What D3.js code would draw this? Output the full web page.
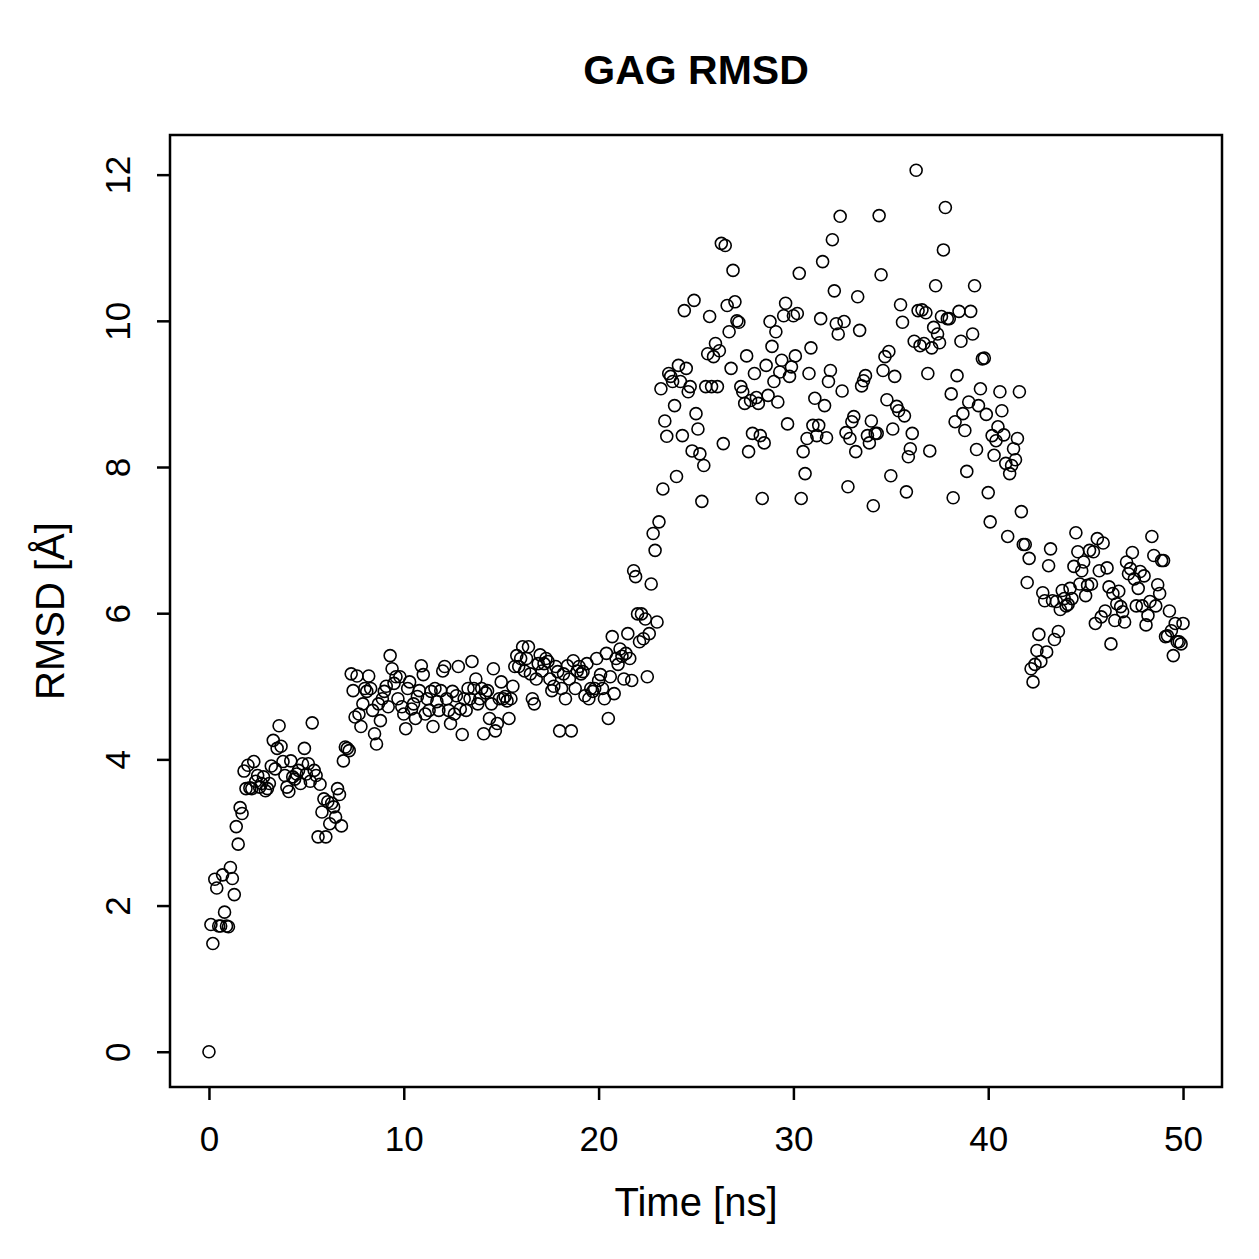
<!DOCTYPE html>
<html>
<head>
<meta charset="utf-8">
<script src="https://cdn.jsdelivr.net/npm/d3@7"></script>
<style>
  body { margin: 0; background: #fff; }
  text { font-family: "Liberation Sans", Arial, Helvetica, sans-serif; fill: #000; }
</style>
</head>
<body>
<div id="my_dataviz"></div>
<script>
// sampling step of the trajectory (ns)
var stepNs = 0.1;

// RMSD values (A), one per frame
var rmsd = [
  0, 1.74, 1.48, 2.36, 2.24, 1.72, 1.72, 2.42, 1.91, 1.72,
  1.71, 2.52, 2.37, 2.15, 3.08, 2.84, 3.34, 3.26, 3.84, 3.60,
  3.92, 3.61, 3.60, 3.97, 3.70, 3.78, 3.62, 3.67, 3.76, 3.57,
  3.60, 3.67, 3.91, 4.26, 3.87, 4.15, 4.46, 4.18, 3.97, 3.78,
  3.62, 3.56, 3.98, 3.76, 3.73, 3.80, 3.85, 3.67, 3.94, 4.15,
  3.80, 3.94, 3.70, 4.50, 3.85, 3.78, 2.94, 3.66, 3.28, 3.46,
  2.94, 3.42, 3.12, 3.40, 3.35, 3.21, 3.60, 3.52, 3.09, 3.98,
  4.17, 4.15, 4.12, 5.17, 4.94, 4.58, 5.14, 4.62, 4.45, 4.76,
  4.97, 4.93, 5.14, 4.97, 4.67, 4.35, 4.21, 4.76, 4.53, 4.83,
  4.93, 5.00, 4.72, 5.42, 5.24, 5.04, 5.13, 4.83, 5.13, 4.72,
  4.62, 4.42, 4.97, 5.06, 4.69, 4.76, 4.56, 4.86, 4.94, 5.28,
  5.16, 4.62, 4.83, 4.67, 4.93, 4.45, 4.97, 4.79, 4.67, 4.94,
  5.21, 5.27, 4.83, 4.67, 4.49, 4.93, 4.62, 4.87, 5.27, 4.69,
  4.34, 4.83, 4.67, 4.97, 4.83, 5.34, 4.97, 5.10, 4.76, 4.83,
  4.97, 4.35, 4.91, 4.94, 4.56, 4.76, 5.24, 4.39, 4.49, 4.83,
  5.06, 4.83, 4.86, 4.80, 4.56, 4.83, 5.00, 5.27, 5.42, 5.27,
  5.38, 5.54, 5.21, 5.38, 5.54, 5.17, 4.83, 4.76, 5.10, 5.31,
  5.43, 5.21, 5.31, 5.38, 5.34, 5.10, 4.94, 5.00, 5.27, 5.20,
  4.39, 4.97, 5.17, 4.83, 5.28, 5.10, 4.39, 5.35, 4.97, 5.21,
  5.27, 5.17, 5.20, 4.87, 5.31, 4.83, 4.97, 4.93, 4.97, 5.38,
  5.08, 5.16, 4.97, 4.83, 5.45, 4.56, 5.13, 5.68, 4.90, 5.38,
  5.30, 5.51, 5.41, 5.10, 5.45, 5.72, 5.38, 5.08, 6.58, 6.50,
  5.99, 5.61, 5.99, 5.65, 5.92, 5.13, 5.72, 6.40, 7.09, 6.86,
  5.88, 7.25, 9.07, 7.70, 8.63, 8.42, 9.28, 9.24, 9.17, 8.84,
  7.87, 9.39, 9.17, 8.43, 10.14, 9.35, 9.03, 9.10, 8.22, 10.28,
  8.73, 8.52, 8.18, 7.53, 8.02, 9.10, 9.55, 10.06, 9.10, 9.51,
  9.69, 9.10, 9.59, 11.06, 8.32, 11.03, 10.21, 9.85, 9.35, 10.69,
  10.26, 10.00, 9.98, 9.10, 9.03, 8.87, 9.52, 8.21, 8.91, 8.46,
  9.28, 8.95, 8.87, 8.43, 7.57, 8.33, 9.39, 8.98, 9.99, 9.65,
  9.17, 9.85, 8.89, 9.30, 9.46, 10.07, 10.24, 8.59, 9.24, 9.37,
  10.07, 9.52, 10.10, 10.65, 7.57, 8.21, 7.91, 8.39, 9.28, 9.63,
  8.57, 8.94, 8.43, 8.57, 10.03, 10.81, 8.84, 8.40, 9.17, 9.32,
  11.11, 10.41, 9.96, 9.82, 11.43, 9.04, 9.99, 8.47, 7.73, 8.39,
  8.62, 8.69, 8.21, 10.33, 9.87, 9.11, 9.18, 9.25, 8.43, 8.33,
  8.63, 7.47, 8.46, 8.46, 11.44, 10.63, 9.32, 9.51, 8.92, 9.58,
  7.88, 8.52, 9.24, 8.83, 8.77, 10.22, 9.98, 8.70, 7.66, 8.14,
  8.25, 8.46, 9.72, 12.06, 10.14, 9.66, 10.15, 9.69, 10.11, 9.28,
  8.22, 9.63, 9.91, 10.48, 9.82, 9.70, 10.06, 10.97, 11.55, 10.03,
  10.03, 9.00, 7.58, 8.62, 9.25, 10.13, 9.72, 8.73, 8.50, 7.94,
  8.89, 10.13, 9.82, 10.48, 8.24, 8.84, 9.07, 9.48, 9.49, 8.72,
  7.65, 7.25, 8.43, 8.16, 8.36, 8.55, 9.03, 8.77, 8.44, 8.05,
  7.05, 7.91, 8.02, 8.25, 8.10, 8.39, 9.03, 7.39, 6.94, 6.94,
  6.42, 6.75, 5.24, 5.06, 5.30, 5.49, 5.71, 5.34, 6.28, 6.17,
  5.47, 6.65, 6.88, 6.17, 5.64, 6.16, 5.75, 6.05, 6.31, 6.20,
  6.10, 6.12, 6.34, 6.20, 6.64, 7.10, 6.84, 6.40, 6.58, 6.70,
  6.24, 6.38, 6.86, 6.40, 6.84, 5.86, 7.02, 6.58, 5.95, 6.96,
  6.03, 6.62, 6.36, 5.58, 6.27, 5.90, 6.13, 6.30, 6.09, 6.02,
  5.88, 6.70, 6.54, 6.61, 6.83, 6.47, 6.10, 6.34, 6.57, 6.10,
  6.51, 5.84, 5.97, 6.16, 7.05, 6.79, 6.10, 6.39, 6.27, 6.72,
  6.72, 5.68, 5.69, 6.03, 5.76, 5.42, 5.86, 5.61, 5.61, 5.58,
  5.86
];

var xTicks = [0, 10, 20, 30, 40, 50];
var yTicks = [0, 2, 4, 6, 8, 10, 12];

var data = rmsd.map(function(v, i) {
    return { time: i * stepNs, rmsd: v };
});

var W = 1259, H = 1259;
// plot box (R style, 4% padding around data range)
var box = { left: 170, right: 1222, top: 135, bottom: 1087 };

var svg = d3.select("#my_dataviz")
    .append("svg")
    .attr("width", W)
    .attr("height", H);

var x = d3.scaleLinear()
    .domain([-2, 52])
    .range([box.left, box.right]);

var y = d3.scaleLinear()
    .domain([-0.4824, 12.5424])
    .range([box.bottom, box.top]);

// X axis
var gx = svg.append("g")
    .attr("transform", "translate(0," + box.bottom + ")")
    .call(d3.axisBottom(x).tickValues(xTicks).tickSize(13).tickFormat(d3.format("d")));
gx.select(".domain").remove();
gx.selectAll("line").attr("stroke", "#000").attr("stroke-width", 2.5);
gx.selectAll("text")
    .attr("y", 64)
    .attr("dy", null)
    .style("font-size", "35px");

// Y axis
var gy = svg.append("g")
    .attr("transform", "translate(" + box.left + ",0)")
    .call(d3.axisLeft(y).tickValues(yTicks).tickSize(13).tickFormat(d3.format("d")));
gy.select(".domain").remove();
gy.selectAll("line").attr("stroke", "#000").attr("stroke-width", 2.5);
gy.selectAll("text")
    .attr("x", 0)
    .attr("y", -40)
    .attr("dy", null)
    .attr("transform", "rotate(-90)")
    .attr("text-anchor", "middle")
    .style("font-size", "35px");

// box
svg.append("rect")
    .attr("x", box.left)
    .attr("y", box.top)
    .attr("width", box.right - box.left)
    .attr("height", box.bottom - box.top)
    .attr("fill", "none")
    .attr("stroke", "#000")
    .attr("stroke-width", 2.5);

// points
svg.append("g")
    .selectAll("circle")
    .data(data)
    .enter()
    .append("circle")
    .attr("cx", function(d) { return x(d.time); })
    .attr("cy", function(d) { return y(d.rmsd); })
    .attr("r", 6)
    .attr("fill", "none")
    .attr("stroke", "#000")
    .attr("stroke-width", 1.6);

// title + labels
svg.append("text")
    .attr("x", (box.left + box.right) / 2)
    .attr("y", 84)
    .attr("text-anchor", "middle")
    .style("font-size", "41px")
    .style("font-weight", "bold")
    .text("GAG RMSD");

svg.append("text")
    .attr("x", (box.left + box.right) / 2)
    .attr("y", 1216)
    .attr("text-anchor", "middle")
    .style("font-size", "40px")
    .text("Time [ns]");

svg.append("text")
    .attr("transform", "translate(64," + ((box.top + box.bottom) / 2) + ")rotate(-90)")
    .attr("text-anchor", "middle")
    .style("font-size", "40px")
    .text("RMSD [Å]");
</script>
</body>
</html>
